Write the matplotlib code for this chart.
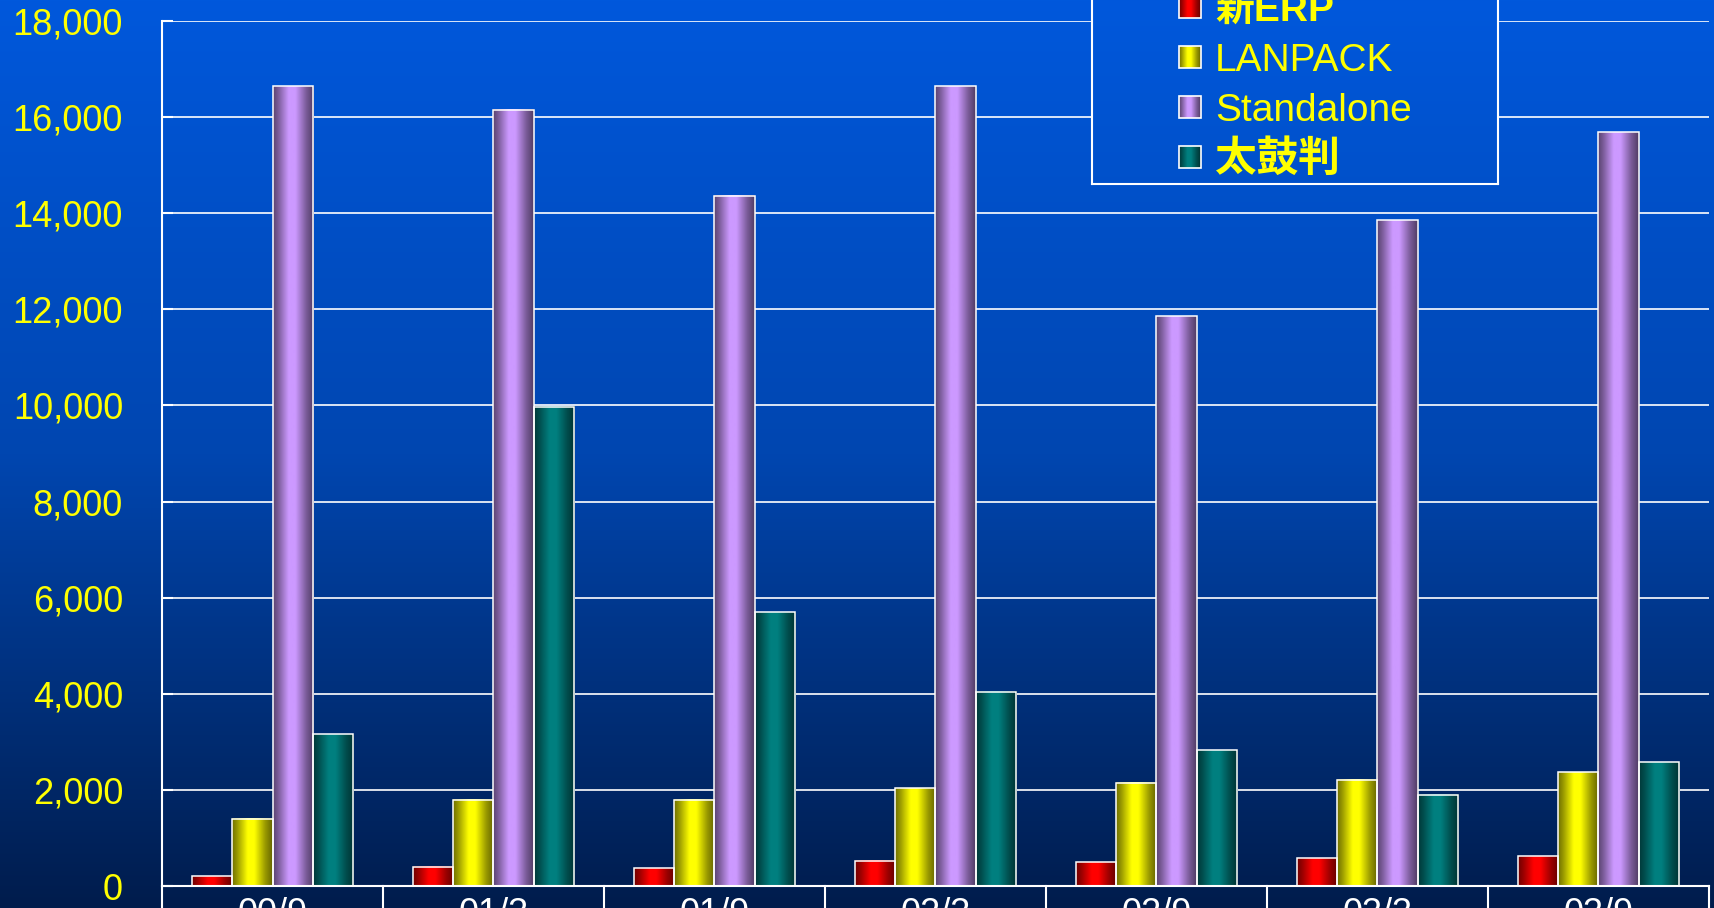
import numpy as np
import matplotlib.pyplot as plt
from matplotlib.patches import Rectangle
from matplotlib.transforms import blended_transform_factory

categories = ['00/9', '01/3', '01/9', '02/3', '02/9', '03/3', '03/9']
series = ['新ERP', 'LANPACK', 'Standalone', '太鼓判']
new_erp = [200, 400, 370, 530, 490, 580, 620]
lanpack = [1400, 1790, 1790, 2030, 2150, 2210, 2370]
standalone = [16640, 16150, 14360, 16640, 11860, 13850, 15690]
taikoban = [3160, 9970, 5700, 4040, 2820, 1900, 2570]
yticks = np.arange(0, 18001, 2000)

base_colors = [(1.0, 0.0, 0.0), (1.0, 1.0, 0.0), (0.80, 0.60, 1.0), (0.0, 0.50, 0.50)]
fonts = ['Liberation Sans', 'Noto Sans CJK JP', 'DejaVu Sans']

W, H = 1715, 908
fig = plt.figure(figsize=(W / 100, H / 100), dpi=100)

# vertical background gradient, function of figure pixel row
stops = [0, 0.5, 1]
cols = np.array([[0x00, 0x58, 0xdc], [0x00, 0x46, 0xb0], [0x00, 0x1c, 0x4c]]) / 255
t = np.linspace(0, 1, H)
grad = np.stack([np.interp(t, stops, cols[:, k]) for k in range(3)], axis=1)[:, None, :]

bg = fig.add_axes([0, 0, 1, 1], zorder=-10)
bg.imshow(grad, extent=[0, W, H, 0], aspect='auto')
bg.set_xlim(0, W)
bg.set_ylim(H, 0)
bg.axis('off')

# cylinder-like shading across a bar
prof_x = [0, 0.12, 0.38, 0.55, 0.82, 1]
prof_f = [0.45, 0.6, 1, 1, 0.6, 0.4]


def shade(rgb, n=40):
    x = np.linspace(0, 1, n)
    f = np.interp(x, prof_x, prof_f)
    return (np.array(rgb)[None, :] * f[:, None])[None, :, :]


ax = fig.add_axes([162 / W, 1 - 886 / H, 1547 / W, 865 / H])
ax.set_facecolor('none')

x = np.arange(len(categories))
w = 0.182
data = [new_erp, lanpack, standalone, taikoban]
for i, (vals, c) in enumerate(zip(data, base_colors)):
    bars = ax.bar(x + (i - 1.5) * w, vals, w, facecolor='none',
                  edgecolor='white', lw=1.1, zorder=3)
    for p in bars:
        ax.imshow(shade(c), extent=[p.get_x(), p.get_x() + p.get_width(), 0, p.get_height()],
                  aspect='auto', zorder=2, interpolation='bilinear')

ax.set_xlim(-0.5, 6.5)
ax.set_ylim(0, 18000)
ax.set_yticks(yticks, [f'{v:,}' for v in yticks])
ax.set_xticks(x, categories)
ax.tick_params(axis='y', labelcolor='#ffff00', labelsize=26, direction='in',
               length=8, color='white', width=1.5, pad=28)
ax.tick_params(axis='x', labelcolor='white', labelsize=26, length=0, pad=8)
for lab in ax.get_xticklabels() + ax.get_yticklabels():
    lab.set_family(fonts)
ax.grid(axis='y', color='white', lw=1.2)
ax.set_axisbelow(True)
ax.spines[['top', 'right']].set_visible(False)
for s in ['left', 'bottom']:
    ax.spines[s].set_color('white')
    ax.spines[s].set_linewidth(1.5)

# category cells below the axis
trans = blended_transform_factory(ax.transData, ax.transAxes)
for b in np.arange(-0.5, 7, 1):
    ax.plot([b, b], [0, -0.06], transform=trans, color='white', lw=1.5, clip_on=False)

# legend box, drawn in figure pixel coordinates
lx0, lx1, ly0, ly1 = 1092, 1498, -60, 184
lax = fig.add_axes([lx0 / W, 1 - ly1 / H, (lx1 - lx0) / W, (ly1 - ly0) / H], zorder=5)
lax.imshow(grad, extent=[0, W, H, 0], aspect='auto')
lax.set_xlim(lx0, lx1)
lax.set_ylim(ly1, ly0)
lax.set_xticks([])
lax.set_yticks([])
for s in lax.spines.values():
    s.set_color('white')
    s.set_linewidth(1.5)

baselines = [21, 71, 121, 171]
for name, c, yb in zip(series, base_colors, baselines):
    yc = yb - 14
    lax.imshow(shade(c), extent=[1179, 1201, yc + 11, yc - 11], aspect='auto',
               interpolation='bilinear', zorder=2)
    lax.add_patch(Rectangle((1179, yc - 11), 22, 22, fill=False, ec='white', lw=1.2, zorder=3))
    cjk = any(ord(ch) > 0x2e80 for ch in name)
    lax.text(1215, yb, name, color='#ffff00', fontsize=30 if name == '太鼓判' else 28,
             va='baseline', ha='left', family=fonts, weight='bold' if cjk else 'normal')

fig.savefig('out.png', dpi=100)
